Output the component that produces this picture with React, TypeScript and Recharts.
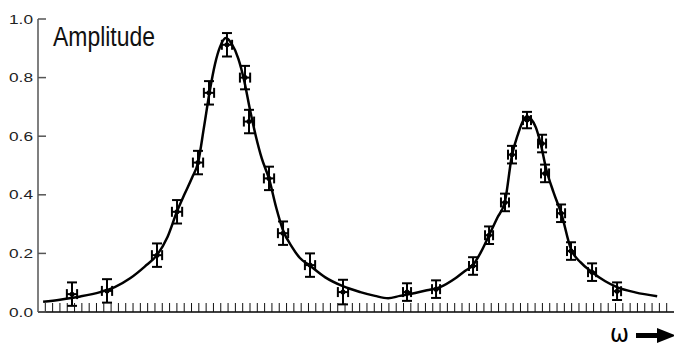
import React from "react";
import {
  ComposedChart,
  Line,
  Scatter,
  ErrorBar,
  XAxis,
  YAxis,
} from "recharts";

// measured points: omega (tick units), amplitude, error in x / y
const pointX = [
  4.65, 9.44, 16.28, 19.02, 21.89, 23.39, 25.85, 28.32, 28.86, 31.6, 33.52,
  37.21, 41.72, 50.48, 54.45, 59.51, 61.7, 63.88, 64.84, 66.89, 68.95, 69.36,
  71.55, 72.91, 75.79, 79.21,
];
const pointY = [
  0.061, 0.072, 0.194, 0.342, 0.51, 0.748, 0.912, 0.8, 0.65, 0.456, 0.269,
  0.16, 0.068, 0.068, 0.078, 0.157, 0.262, 0.374, 0.537, 0.655, 0.575, 0.473,
  0.337, 0.208, 0.136, 0.071,
];
const pointErrY = [
  0.04, 0.04, 0.04, 0.04, 0.04, 0.04, 0.04, 0.04, 0.04, 0.04, 0.04, 0.04,
  0.042, 0.03, 0.03, 0.03, 0.03, 0.03, 0.03, 0.028, 0.03, 0.03, 0.03, 0.03,
  0.03, 0.03,
];
const pointErrX = [
  0.7, 0.7, 0.7, 0.7, 0.7, 0.7, 0.7, 0.7, 0.7, 0.7, 0.7, 0.7, 0.7, 0.55,
  0.55, 0.55, 0.55, 0.55, 0.55, 0.55, 0.55, 0.55, 0.55, 0.55, 0.55, 0.55,
];

// fitted curve
const curveX = [
  0.7, 3.0, 5.8, 8.5, 10.5, 12.6, 14.6, 16.3, 17.7, 19.0, 20.1, 21.1, 21.9,
  22.7, 23.5, 24.2, 24.9, 25.7, 26.5, 27.4, 28.2, 29.0, 29.8, 30.6, 31.6,
  32.6, 33.5, 34.8, 35.8, 37.2, 39.3, 41.7, 44.1, 46.1, 47.9, 49.5, 51.6,
  53.2, 55.0, 57.1, 58.4, 59.5, 60.6, 61.7, 62.8, 63.9, 64.8, 65.7, 66.4,
  66.9, 67.4, 68.1, 68.8, 69.5, 70.5, 71.6, 72.9, 74.2, 75.8, 77.6, 79.2,
  81.7, 84.7,
];
const curveY = [
  0.035, 0.042, 0.053, 0.068, 0.085, 0.115, 0.155, 0.195, 0.255, 0.342,
  0.405, 0.46, 0.51, 0.63, 0.755, 0.845, 0.905, 0.935, 0.915, 0.865, 0.79,
  0.69, 0.6, 0.525, 0.455, 0.355, 0.28, 0.22, 0.185, 0.158, 0.118, 0.088,
  0.068, 0.055, 0.047, 0.055, 0.065, 0.074, 0.085, 0.115, 0.14, 0.16, 0.205,
  0.262, 0.32, 0.38, 0.53, 0.61, 0.655, 0.668, 0.66, 0.63, 0.57, 0.49, 0.41,
  0.335, 0.215, 0.17, 0.136, 0.105, 0.085, 0.067, 0.054,
];

const xTicks = Array.from({ length: 86 }, (_, i) => i + 1);
const yTicks = [0, 0.2, 0.4, 0.6, 0.8, 1.0];

const points = pointX.map((x, i) => ({
  x,
  y: pointY[i],
  ex: pointErrX[i],
  ey: pointErrY[i],
}));
const curve = curveX.map((x, i) => ({ x, y: curveY[i] }));

function XTick(props: any) {
  const { x, y } = props;
  return <line x1={x} x2={x} y1={y - 9} y2={y} stroke="#111" strokeWidth={1} />;
}

function YTick(props: any) {
  const { x, y, payload } = props;
  return (
    <g>
      <line x1={x + 5} x2={x + 13} y1={y} y2={y} stroke="#555" strokeWidth={1.5} />
      <text
        x={x}
        y={y}
        dy={4.5}
        textAnchor="end"
        fontFamily="'Liberation Sans', Arial, sans-serif"
        fontSize={13}
        fill="#222"
        textLength={24}
        lengthAdjust="spacingAndGlyphs"
      >
        {payload.value.toFixed(1)}
      </text>
    </g>
  );
}

function Dot(props: any) {
  const { cx, cy } = props;
  return <circle cx={cx} cy={cy} r={2.5} fill="#000" />;
}

export default function App() {
  return (
    <div style={{ position: "absolute", left: 0, top: 0, width: 674, height: 347, background: "#fff" }}>
      <ComposedChart
        width={674}
        height={347}
        margin={{ top: 19, right: 0, left: 0, bottom: 0 }}
      >
        <XAxis
          type="number"
          dataKey="x"
          domain={[0, 87]}
          ticks={xTicks}
          interval={0}
          tickSize={0}
          tickMargin={0}
          tick={<XTick />}
          tickLine={false}
          axisLine={{ stroke: "#000", strokeWidth: 1.5 }}
          height={35}
          allowDataOverflow
        />
        <YAxis
          type="number"
          domain={[0, 1]}
          ticks={yTicks}
          interval={0}
          tickSize={0}
          tickMargin={5}
          tick={<YTick />}
          tickLine={false}
          axisLine={{ stroke: "#555", strokeWidth: 1.5 }}
          width={38}
          allowDataOverflow
        />
        <Line
          data={curve}
          dataKey="y"
          type="monotone"
          stroke="#000"
          strokeWidth={2.5}
          dot={false}
          activeDot={false}
          isAnimationActive={false}
        />
        <Scatter data={points} dataKey="y" shape={<Dot />} isAnimationActive={false}>
          <ErrorBar dataKey="ey" direction="y" width={5} stroke="#000" strokeWidth={2} isAnimationActive={false} />
          <ErrorBar dataKey="ex" direction="x" width={5} stroke="#000" strokeWidth={2} isAnimationActive={false} />
        </Scatter>
      </ComposedChart>
      <svg
        width={674}
        height={347}
        style={{ position: "absolute", left: 0, top: 0, pointerEvents: "none" }}
      >
        <text
          x={53}
          y={45.5}
          fontFamily="'Liberation Sans Narrow', 'Liberation Sans', Arial, sans-serif"
          fontSize={27}
          fill="#111"
          textLength={102}
          lengthAdjust="spacingAndGlyphs"
        >
          Amplitude
        </text>
        <text
          x={610}
          y={342}
          fontFamily="'DejaVu Sans', sans-serif"
          fontSize={24}
          fill="#000"
          textLength={19}
          lengthAdjust="spacingAndGlyphs"
        >
          ω
        </text>
        <line x1={636} x2={660} y1={335.5} y2={335.5} stroke="#000" strokeWidth={5} />
        <polygon points="657,328 676,335.5 657,343" fill="#000" />
      </svg>
    </div>
  );
}
